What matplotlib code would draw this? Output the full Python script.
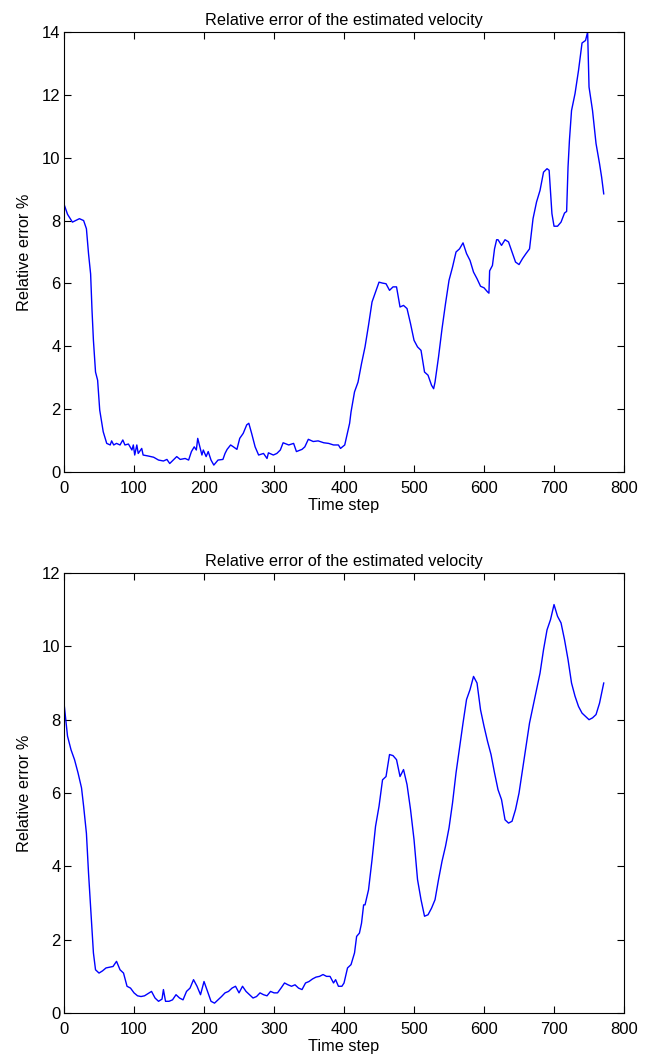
import matplotlib
matplotlib.use("Agg")
import matplotlib.pyplot as plt

plt.rcParams['font.family'] = ['Liberation Sans', 'DejaVu Sans']

# ---- data: top panel ----
t_top = [0, 5, 12, 22, 28, 32, 35, 38, 40, 42, 45, 48, 51, 56, 61, 66, 68, 71, 75, 80, 84, 87, 92,
         97, 99, 101, 104, 106, 111, 113, 120, 128, 135, 142, 147, 151, 156, 161, 166, 173, 178,
         182, 186, 189, 191, 194, 197, 199, 203, 206, 210, 214, 220, 227, 230, 233, 238, 242, 247,
         251, 256, 261, 264, 268, 273, 278, 285, 290, 292, 299, 304, 309, 313, 321, 328, 332, 340,
         344, 349, 356, 363, 371, 378, 385, 392, 395, 401, 405, 408, 410, 415, 420, 425, 430, 435,
         440, 445, 450, 455, 460, 465, 470, 475, 480, 485, 490, 495, 500, 505, 510, 515, 520, 525,
         528, 530, 535, 540, 545, 550, 555, 560, 565, 570, 575, 580, 585, 590, 595, 600, 605, 607,
         608, 612, 615, 618, 620, 625, 630, 635, 640, 645, 650, 655, 660, 665, 670, 675, 680, 685,
         690, 693, 697, 700, 705, 710, 715, 718, 720, 722, 725, 730, 735, 740, 745, 748, 750, 755,
         760, 765, 768, 771]
err_top = [8.52, 8.2, 7.95, 8.06, 8.0, 7.74, 6.95, 6.3, 5.14, 4.19, 3.18, 2.92, 1.97, 1.28, 0.91,
           0.86, 0.99, 0.86, 0.91, 0.86, 1.02, 0.86, 0.89, 0.70, 0.86, 0.54, 0.86, 0.59, 0.75,
           0.54, 0.51, 0.47, 0.38, 0.35, 0.40, 0.27, 0.38, 0.49, 0.40, 0.43, 0.38, 0.65, 0.80,
           0.70, 1.07, 0.80, 0.54, 0.70, 0.49, 0.65, 0.38, 0.22, 0.38, 0.40, 0.59, 0.72, 0.86,
           0.80, 0.72, 1.07, 1.23, 1.50, 1.55, 1.23, 0.80, 0.54, 0.59, 0.43, 0.61, 0.54, 0.59,
           0.70, 0.93, 0.86, 0.91, 0.65, 0.72, 0.80, 1.04, 0.97, 0.99, 0.93, 0.91, 0.86, 0.86,
           0.75, 0.86, 1.25, 1.55, 1.91, 2.55, 2.86, 3.45, 3.98, 4.67, 5.41, 5.73, 6.04, 6.01,
           5.99, 5.78, 5.89, 5.89, 5.25, 5.3, 5.2, 4.72, 4.19, 3.98, 3.87, 3.18, 3.08, 2.76, 2.65,
           2.86, 3.66, 4.56, 5.36, 6.1, 6.52, 7.0, 7.1, 7.29, 6.95, 6.73, 6.36, 6.15, 5.91, 5.86,
           5.73, 5.69, 6.4, 6.57, 7.1, 7.39, 7.39, 7.21, 7.39, 7.32, 7.0, 6.68, 6.6, 6.79, 6.95,
           7.1, 8.06, 8.59, 8.96, 9.54, 9.65, 9.6, 8.22, 7.82, 7.82, 7.95, 8.24, 8.29, 9.7, 10.55,
           11.5, 12.04, 12.78, 13.65, 13.73, 14.0, 12.25, 11.5, 10.45, 9.81, 9.38, 8.85]

# ---- data: bottom panel ----
t_bot = [0, 5, 10, 15, 20, 25, 28, 32, 35, 38, 42, 45, 50, 55, 60, 65, 70, 75, 80, 85, 90, 95,
         100, 105, 110, 115, 120, 125, 130, 135, 140, 142, 145, 150, 155, 160, 165, 170, 175, 180,
         185, 190, 195, 200, 205, 210, 215, 220, 225, 230, 235, 240, 245, 250, 255, 260, 265, 270,
         275, 280, 285, 290, 295, 300, 305, 310, 315, 320, 325, 330, 335, 340, 345, 350, 355, 360,
         365, 370, 375, 380, 385, 388, 392, 397, 400, 405, 410, 415, 418, 422, 425, 428, 430, 435,
         440, 445, 450, 455, 460, 465, 470, 475, 480, 485, 490, 495, 500, 505, 510, 515, 520, 525,
         530, 535, 540, 545, 550, 555, 560, 565, 570, 575, 580, 585, 590, 595, 600, 605, 610, 615,
         620, 625, 630, 635, 640, 645, 650, 655, 660, 665, 670, 675, 680, 685, 690, 695, 700, 705,
         710, 715, 720, 725, 730, 735, 740, 745, 750, 755, 760, 765, 771]
err_bot = [8.45, 7.55, 7.18, 6.91, 6.55, 6.14, 5.64, 4.9, 3.82, 2.9, 1.64, 1.18, 1.09, 1.15, 1.23,
           1.25, 1.27, 1.41, 1.18, 1.09, 0.73, 0.68, 0.55, 0.47, 0.45, 0.47, 0.53, 0.59, 0.41, 0.32,
           0.38, 0.64, 0.32, 0.32, 0.36, 0.5, 0.41, 0.36, 0.59, 0.68, 0.91, 0.73, 0.5, 0.86, 0.59,
           0.32, 0.27, 0.36, 0.45, 0.55, 0.59, 0.68, 0.73, 0.55, 0.73, 0.59, 0.5, 0.41, 0.45, 0.55,
           0.5, 0.47, 0.59, 0.55, 0.55, 0.68, 0.82, 0.77, 0.73, 0.77, 0.68, 0.64, 0.82, 0.86, 0.93,
           0.98, 1.0, 1.05, 1.0, 1.0, 0.82, 0.91, 0.73, 0.73, 0.82, 1.23, 1.32, 1.64, 2.09, 2.18,
           2.45, 2.95, 2.95, 3.36, 4.18, 5.09, 5.64, 6.36, 6.45, 7.05, 7.02, 6.91, 6.45, 6.64, 6.23,
           5.55, 4.73, 3.64, 3.09, 2.64, 2.68, 2.86, 3.09, 3.64, 4.14, 4.55, 5.05, 5.73, 6.55, 7.23,
           7.91, 8.55, 8.82, 9.18, 9.0, 8.27, 7.82, 7.41, 7.05, 6.55, 6.09, 5.82, 5.27, 5.18, 5.23,
           5.55, 6.0, 6.64, 7.27, 7.91, 8.36, 8.82, 9.27, 9.91, 10.45, 10.73, 11.14, 10.82, 10.64,
           10.18, 9.64, 9.0, 8.64, 8.36, 8.18, 8.09, 8.0, 8.05, 8.14, 8.45, 9.0]

title_text = "Relative error of the estimated velocity"
xlabel_text = "Time step"
ylabel_text = "Relative error %"

fig = plt.figure(figsize=(6.6, 10.59), dpi=100)
ax1 = fig.add_axes([0.097, 0.5543, 0.8485, 0.4155])
ax2 = fig.add_axes([0.097, 0.0434, 0.8485, 0.4155])

panels = [(ax1, t_top, err_top, 14, [0, 2, 4, 6, 8, 10, 12, 14]),
          (ax2, t_bot, err_bot, 12, [0, 2, 4, 6, 8, 10, 12])]

for ax, t, e, ymax, yt in panels:
    ax.plot(t, e, color=(0, 0, 1), linewidth=1.0)
    ax.set_xlim(0, 800)
    ax.set_ylim(0, ymax)
    ax.set_xticks([0, 100, 200, 300, 400, 500, 600, 700, 800])
    ax.set_yticks(yt)
    ax.tick_params(direction='in', top=True, right=True, labelsize=12, length=5, width=0.8)
    ax.tick_params(axis='x', pad=6.5)
    ax.tick_params(axis='y', pad=2.5)
    for s in ax.spines.values():
        s.set_linewidth(0.8)
    ax.set_title(title_text, fontsize=11.7, pad=5)
    ax.set_xlabel(xlabel_text, fontsize=11.7, labelpad=1.5)
    ax.set_ylabel(ylabel_text, fontsize=11.7, labelpad=7)

fig.savefig("out.png", dpi=100)
